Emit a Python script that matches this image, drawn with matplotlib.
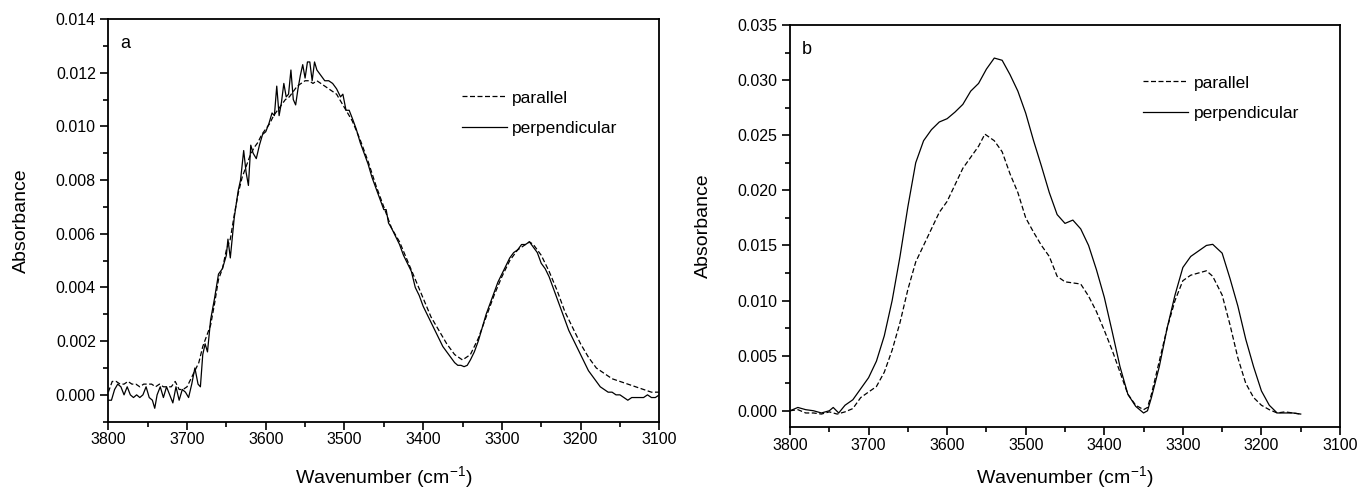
import matplotlib
matplotlib.use("Agg")
import matplotlib.pyplot as plt
from matplotlib.ticker import MultipleLocator

plt.rcParams['font.family'] = ['Liberation Sans', 'DejaVu Sans']

# ---------------- Panel a data ----------------
a_perp_x = [3800, 3796, 3792, 3788, 3784, 3780, 3776, 3772, 3768, 3764, 3760, 3756, 3752, 3748, 3744, 3741,
            3738, 3734, 3730, 3726, 3722, 3718, 3714, 3710, 3706, 3702, 3698, 3694, 3690, 3686, 3683, 3680,
            3677, 3674, 3670, 3665, 3660, 3655, 3650, 3648, 3645, 3640, 3635, 3632, 3628, 3625, 3622, 3619,
            3616, 3612, 3608, 3604, 3600, 3596, 3592, 3589, 3586, 3583, 3580, 3577, 3574, 3571, 3568, 3565,
            3562, 3559, 3556, 3553, 3550, 3547, 3544, 3541, 3538, 3535, 3530, 3525, 3520, 3515, 3510, 3505,
            3502, 3498, 3494, 3490, 3485, 3480, 3475, 3470, 3465, 3460, 3455, 3450, 3447, 3444, 3440, 3435,
            3430, 3425, 3420, 3415, 3410, 3405, 3400, 3395, 3390, 3385, 3380, 3375, 3370, 3365, 3360, 3356,
            3352, 3348, 3344, 3340, 3335, 3330, 3325, 3320, 3315, 3310, 3305, 3300, 3295, 3290, 3285, 3280,
            3275, 3270, 3265, 3260, 3255, 3250, 3245, 3240, 3235, 3230, 3225, 3220, 3215, 3210, 3205, 3200,
            3195, 3190, 3185, 3180, 3175, 3170, 3165, 3160, 3155, 3150, 3145, 3140, 3135, 3130, 3125, 3120,
            3115, 3110, 3105, 3100]
a_perp_y = [-0.0002, -0.0002, 0.0002, 0.0004, 0.0003, 0.0000, 0.0003, 0.0000, -0.0001, 0.0000, -0.0001, 0.0000,
            0.0003, -0.0001, -0.0002, -0.0005, 0.0000, 0.0003, -0.0001, 0.0003, 0.0000, -0.0003, 0.0003, -0.0002,
            0.0002, 0.0001, -0.0001, 0.0004, 0.0010, 0.0004, 0.0003, 0.0015, 0.0019, 0.0016, 0.0028, 0.0036,
            0.0045, 0.0047, 0.0052, 0.0058, 0.0051, 0.0066, 0.0076, 0.0080, 0.0091, 0.0083, 0.0078, 0.0093,
            0.0090, 0.0088, 0.0093, 0.0097, 0.0098, 0.0101, 0.0105, 0.0104, 0.0115, 0.0104, 0.0109, 0.0116,
            0.0111, 0.0112, 0.0121, 0.0110, 0.0108, 0.0114, 0.0119, 0.0123, 0.0118, 0.0124, 0.0124, 0.0117,
            0.0124, 0.0121, 0.0119, 0.0117, 0.0117, 0.0116, 0.0114, 0.0111, 0.0112, 0.0106, 0.0106, 0.0103,
            0.0099, 0.0094, 0.0090, 0.0086, 0.0081, 0.0077, 0.0073, 0.0069, 0.0069, 0.0064, 0.0062, 0.0059,
            0.0056, 0.0052, 0.0049, 0.0046, 0.0040, 0.0037, 0.0033, 0.0030, 0.0027, 0.0024, 0.0021, 0.0018,
            0.0016, 0.0014, 0.0012, 0.0011, 0.0011, 0.00105, 0.0011, 0.0013, 0.0016, 0.0020, 0.0025, 0.0030,
            0.0034, 0.0038, 0.0042, 0.0045, 0.0048, 0.0051, 0.0053, 0.0054, 0.0056, 0.0056, 0.0057, 0.0055,
            0.0053, 0.0049, 0.0047, 0.0044, 0.0040, 0.0036, 0.0032, 0.0028, 0.0024, 0.0021, 0.0018, 0.0015,
            0.0012, 0.0009, 0.0007, 0.0005, 0.0003, 0.0002, 0.0001, 0.0001, 0.0000, 0.0000, -0.0001, -0.0002,
            -0.0001, -0.0001, -0.0001, -0.0001, 0.0000, -0.0001, -0.0001, 0.0000]

a_par_x = [3800, 3795, 3790, 3785, 3780, 3775, 3770, 3765, 3760, 3755, 3750, 3745, 3740, 3735, 3730, 3725,
           3720, 3715, 3710, 3705, 3700, 3695, 3690, 3685, 3680, 3675, 3670, 3665, 3660, 3655, 3650, 3645,
           3640, 3635, 3630, 3625, 3620, 3615, 3610, 3605, 3600, 3595, 3590, 3585, 3580, 3575, 3570, 3565,
           3560, 3555, 3550, 3545, 3540, 3535, 3530, 3520, 3510, 3500, 3490, 3480, 3470, 3460, 3450, 3440,
           3430, 3420, 3410, 3400, 3390, 3380, 3370, 3360, 3350, 3340, 3330, 3320, 3310, 3300, 3290, 3280,
           3270, 3265, 3260, 3250, 3240, 3230, 3220, 3210, 3200, 3190, 3180, 3170, 3160, 3150, 3140, 3130,
           3120, 3110, 3100]
a_par_y = [0.0001, 0.0005, 0.0005, 0.0004, 0.0004, 0.0005, 0.0004, 0.0004, 0.0003, 0.0004, 0.0004, 0.0004,
           0.0003, 0.0004, 0.0003, 0.0003, 0.0003, 0.0005, 0.0002, 0.0002, 0.0003, 0.0006, 0.0009, 0.0012,
           0.0018, 0.0022, 0.0026, 0.0034, 0.0043, 0.0047, 0.0054, 0.0058, 0.0067, 0.0075, 0.0081, 0.0085,
           0.0089, 0.0092, 0.0094, 0.0097, 0.0099, 0.0101, 0.0104, 0.0106, 0.0108, 0.0110, 0.0111, 0.0113,
           0.0115, 0.0116, 0.0117, 0.0117, 0.0116, 0.0117, 0.0116, 0.0114, 0.0112, 0.0107, 0.0102, 0.0095,
           0.0087, 0.0078, 0.0070, 0.0062, 0.0057, 0.0050, 0.0043, 0.0036, 0.0029, 0.0024, 0.0019, 0.0015,
           0.0013, 0.0015, 0.0021, 0.0029, 0.0037, 0.0044, 0.0050, 0.0054, 0.0056, 0.0057, 0.0056, 0.0052,
           0.0046, 0.0039, 0.0031, 0.0025, 0.0019, 0.0014, 0.0010, 0.0008, 0.0006, 0.0005, 0.0004, 0.0003,
           0.0002, 0.0001, 0.0001]

# ---------------- Panel b data ----------------
b_perp_x = [3800, 3790, 3780, 3770, 3760, 3750, 3745, 3738, 3730, 3720, 3710, 3700, 3690, 3680, 3670, 3660,
            3650, 3640, 3630, 3620, 3610, 3600, 3590, 3580, 3570, 3560, 3550, 3540, 3530, 3520, 3510, 3500,
            3490, 3480, 3470, 3460, 3450, 3440, 3430, 3420, 3410, 3400, 3390, 3380, 3370, 3360, 3350, 3345,
            3340, 3330, 3320, 3310, 3300, 3290, 3280, 3270, 3262, 3250, 3240, 3230, 3220, 3210, 3200, 3190,
            3180, 3170, 3160, 3150]
b_perp_y = [0.0000, 0.0003, 0.0001, 0.0000, -0.0002, 0.0000, 0.0003, -0.0002, 0.0005, 0.0010, 0.0020, 0.0030,
            0.0045, 0.0068, 0.0100, 0.0140, 0.0185, 0.0225, 0.0245, 0.0255, 0.0262, 0.0265, 0.0271, 0.0278,
            0.0290, 0.0297, 0.0310, 0.0320, 0.0318, 0.0305, 0.0290, 0.0270, 0.0245, 0.0222, 0.0198, 0.0178,
            0.0170, 0.0173, 0.0165, 0.0150, 0.0128, 0.0103, 0.0072, 0.0040, 0.0015, 0.0004, -0.0002, 0.0000,
            0.0012, 0.0040, 0.0075, 0.0105, 0.0130, 0.0140, 0.0145, 0.0150, 0.0151, 0.0143, 0.0120, 0.0095,
            0.0065, 0.0040, 0.0018, 0.0005, -0.0002, -0.0002, -0.0002, -0.0003]

b_par_x = [3800, 3790, 3780, 3770, 3760, 3750, 3740, 3730, 3720, 3710, 3700, 3690, 3680, 3670, 3660, 3650,
           3640, 3630, 3620, 3610, 3600, 3590, 3580, 3570, 3560, 3552, 3540, 3530, 3520, 3510, 3500, 3490,
           3480, 3470, 3460, 3450, 3440, 3430, 3420, 3410, 3400, 3390, 3380, 3370, 3360, 3350, 3345, 3340,
           3330, 3320, 3310, 3300, 3290, 3280, 3270, 3262, 3250, 3240, 3230, 3220, 3210, 3200, 3190, 3180,
           3170, 3160, 3150]
b_par_y = [0.0000, 0.0001, -0.0002, -0.0002, -0.0003, -0.0001, -0.0003, -0.0001, 0.0002, 0.0012, 0.0017, 0.0022,
           0.0035, 0.0055, 0.0080, 0.0110, 0.0135, 0.0150, 0.0165, 0.0180, 0.0190, 0.0205, 0.0220, 0.0230,
           0.0240, 0.0251, 0.0245, 0.0235, 0.0215, 0.0198, 0.0175, 0.0162, 0.0150, 0.0140, 0.0122, 0.0117,
           0.0116, 0.0115, 0.0104, 0.0090, 0.0073, 0.0055, 0.0035, 0.0015, 0.0005, 0.0001, 0.0003, 0.0015,
           0.0045, 0.0075, 0.0100, 0.0118, 0.0123, 0.0125, 0.0127, 0.0122, 0.0105, 0.0078, 0.0048, 0.0025,
           0.0012, 0.0005, 0.0001, -0.0002, -0.0001, -0.0002, -0.0003]

series_labels = ["parallel", "perpendicular"]
panel_letters = ["a", "b"]
x_label = "Wavenumber (cm$^{\\mathregular{-1}}$)"
y_label = "Absorbance"

W, H = 1359, 491
fig = plt.figure(figsize=(W / 100, H / 100), dpi=100)

def px_axes(l, r, t, b):
    return fig.add_axes([l / W, 1 - b / H, (r - l) / W, (b - t) / H])

axA = px_axes(108.3, 659.3, 19, 421.7)
axB = px_axes(790, 1340, 25, 427.3)

dash = (0, (4, 2))
lw = 0.9

def style(ax, ylim, major, minor, fmt, top_px, bot_px, left_px):
    ax.set_xlim(3800, 3100)
    ax.set_ylim(*ylim)
    ax.xaxis.set_major_locator(MultipleLocator(100))
    ax.xaxis.set_minor_locator(MultipleLocator(50))
    ax.yaxis.set_major_locator(MultipleLocator(major))
    ax.yaxis.set_minor_locator(MultipleLocator(minor))
    ax.yaxis.set_major_formatter(plt.FormatStrFormatter(fmt))
    ax.tick_params(which='both', direction='out', top=False, right=False, width=1.2)
    ax.tick_params(which='major', length=6)
    ax.tick_params(which='minor', length=3.5)
    ax.tick_params(axis='x', which='major', pad=1.5, labelsize=11.5)
    ax.tick_params(axis='y', which='major', pad=3, labelsize=11.5)
    for s in ax.spines.values():
        s.set_linewidth(1.3)
    h = bot_px - top_px
    ax.set_xlabel(x_label, fontsize=14, va='center')
    ax.xaxis.set_label_coords(0.5, -(478 - bot_px) / h)
    ax.set_ylabel(y_label, fontsize=14, va='center')
    ax.yaxis.set_label_coords(-(87 / 551), 0.5)

axA.plot(a_par_x, a_par_y, color='black', lw=lw, linestyle=dash, label=series_labels[0])
axA.plot(a_perp_x, a_perp_y, color='black', lw=lw, label=series_labels[1])
style(axA, (-0.001, 0.014), 0.002, 0.001, '%.3f', 19, 421.7, 108.3)

axB.plot(b_par_x, b_par_y, color='black', lw=lw, linestyle=dash, label=series_labels[0])
axB.plot(b_perp_x, b_perp_y, color='black', lw=lw, label=series_labels[1])
style(axB, (-0.0015, 0.035), 0.005, 0.0025, '%.3f', 25, 427.3, 790)

for ax, letter, anchor in [(axA, panel_letters[0], (0.62, 0.853)), (axB, panel_letters[1], (0.62, 0.905))]:
    ax.text(0.022, 0.96, letter, transform=ax.transAxes, fontsize=13, va='top', ha='left')
    ax.legend(loc='upper left', bbox_to_anchor=anchor, frameon=False, fontsize=12.5,
              handlelength=2.6, handletextpad=0.3, labelspacing=0.9, borderpad=0.2)

fig.savefig("out.png", dpi=100)
